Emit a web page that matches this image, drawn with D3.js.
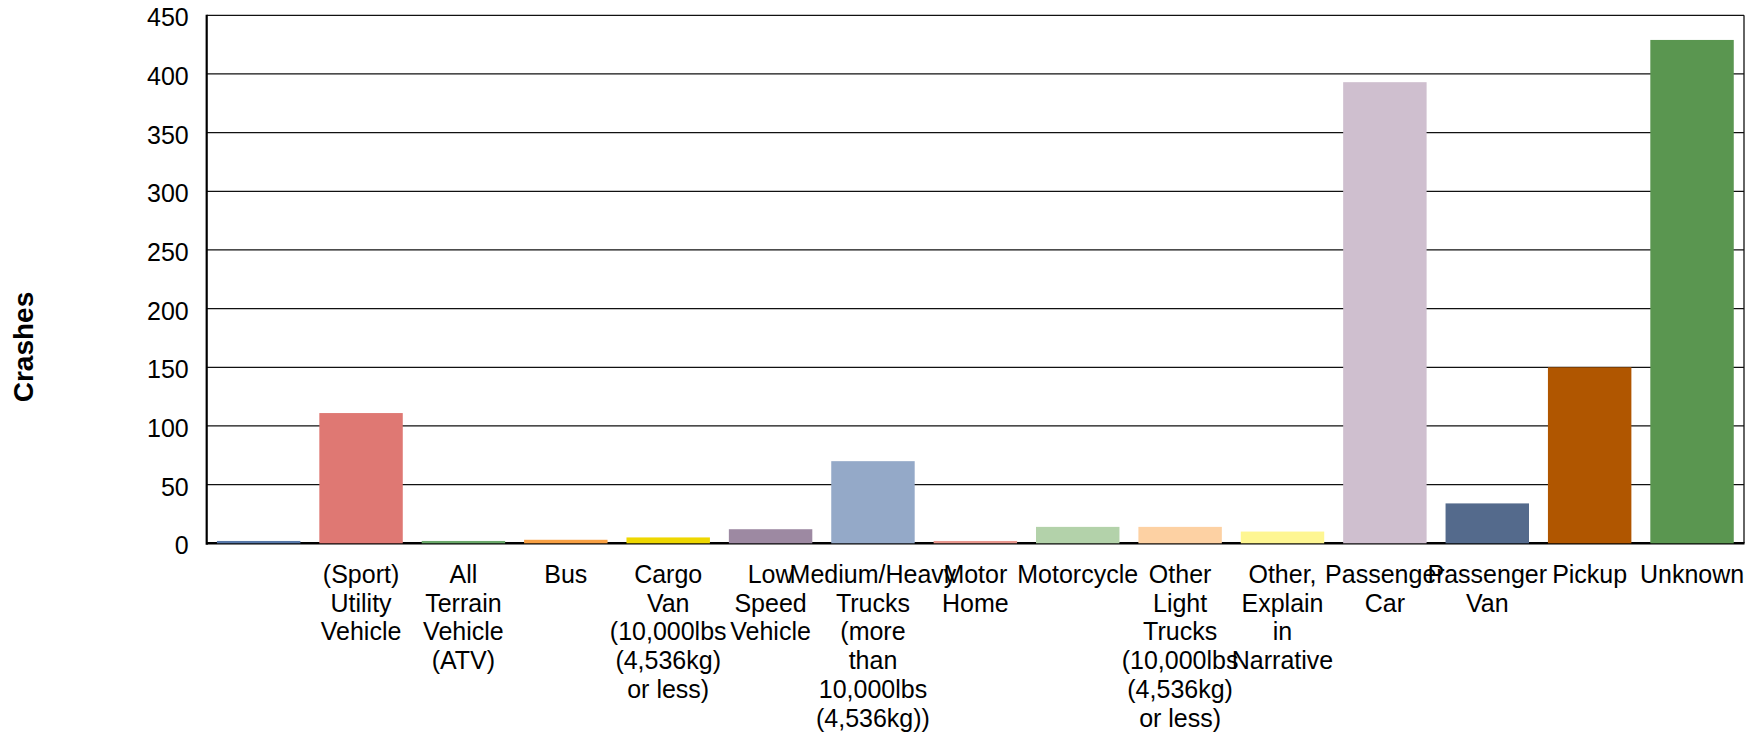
<!DOCTYPE html>
<html>
<head>
<meta charset="utf-8">
<script src="https://cdn.jsdelivr.net/npm/d3@7"></script>
<style>
  html, body { margin: 0; padding: 0; background: #fff; }
  svg { display: block; font-family: "Liberation Sans", Arial, sans-serif; }
</style>
</head>
<body>
<svg id="chart" width="1760" height="737"></svg>
<script>
const categories = [
  "",
  "(Sport) Utility Vehicle",
  "All Terrain Vehicle (ATV)",
  "Bus",
  "Cargo Van (10,000lbs (4,536kg) or less)",
  "Low Speed Vehicle",
  "Medium/Heavy Trucks (more than 10,000lbs (4,536kg))",
  "Motor Home",
  "Motorcycle",
  "Other Light Trucks (10,000lbs (4,536kg) or less)",
  "Other, Explain in Narrative",
  "Passenger Car",
  "Passenger Van",
  "Pickup",
  "Unknown"
];
const labelLines = [
  [],
  ["(Sport)", "Utility", "Vehicle"],
  ["All", "Terrain", "Vehicle", "(ATV)"],
  ["Bus"],
  ["Cargo", "Van", "(10,000lbs", "(4,536kg)", "or less)"],
  ["Low", "Speed", "Vehicle"],
  ["Medium/Heavy", "Trucks", "(more", "than", "10,000lbs", "(4,536kg))"],
  ["Motor", "Home"],
  ["Motorcycle"],
  ["Other", "Light", "Trucks", "(10,000lbs", "(4,536kg)", "or less)"],
  ["Other,", "Explain", "in", "Narrative"],
  ["Passenger", "Car"],
  ["Passenger", "Van"],
  ["Pickup"],
  ["Unknown"]
];
const crashes = [2, 111, 2, 3, 5, 12, 70, 2, 14, 14, 10, 393, 34, 150, 429];
const colors = ["#5677a8", "#df7873", "#6aa86a", "#f8a043", "#eed700", "#9d89a2",
  "#94a9c8", "#e8968d", "#b3d2aa", "#fdd1a3", "#fef692", "#cfbfcf",
  "#546a8c", "#b05600", "#5a9650"];
const yTicks = [0, 50, 100, 150, 200, 250, 300, 350, 400, 450];
const yTitle = "Crashes";

const svg = d3.select("#chart");
const pL = 206.7, pR = 1744, pT = 15.3, pB = 543.3;

const x = d3.scaleBand().domain(d3.range(categories.length))
  .range([pL, pR]).paddingInner(0.185).paddingOuter(0.1);
const y = d3.scaleLinear().domain([0, 450]).range([pB, pT]);

// gridlines
svg.append("g").selectAll("line").data(yTicks.filter(t => t > 0)).join("line")
  .attr("x1", pL).attr("x2", pR)
  .attr("y1", d => y(d)).attr("y2", d => y(d))
  .attr("stroke", "#111").attr("stroke-width", 1.3);

// right border
svg.append("line").attr("x1", pR).attr("x2", pR).attr("y1", pT).attr("y2", pB)
  .attr("stroke", "#111").attr("stroke-width", 1.3);

// y axis
const yAxis = d3.axisLeft(y).tickValues(yTicks).tickSize(0).tickPadding(18);
const gy = svg.append("g").attr("transform", `translate(${pL},0)`).call(yAxis);
gy.select(".domain").remove();
gy.selectAll("text").attr("font-size", 25).attr("fill", "#000")
  .attr("font-family", "'Liberation Sans', Arial, sans-serif")
  .attr("dy", "0.42em");

// axis lines
svg.append("line").attr("x1", pL).attr("x2", pL).attr("y1", pT - 0.5).attr("y2", pB + 1.5)
  .attr("stroke", "#000").attr("stroke-width", 2.2);
svg.append("line").attr("x1", pL).attr("x2", pR + 0.5).attr("y1", pB).attr("y2", pB)
  .attr("stroke", "#000").attr("stroke-width", 2.4);

// bars
svg.append("g").selectAll("rect").data(crashes).join("rect")
  .attr("x", (d, i) => x(i))
  .attr("width", x.bandwidth())
  .attr("y", d => y(d))
  .attr("height", d => pB - y(d))
  .attr("fill", (d, i) => colors[i]);

// x labels
const xl = svg.append("g");
labelLines.forEach((lines, i) => {
  const cx = x(i) + x.bandwidth() / 2;
  const t = xl.append("text").attr("text-anchor", "middle")
    .attr("font-size", 25).attr("fill", "#000");
  lines.forEach((ln, k) => {
    t.append("tspan").attr("x", cx).attr("y", pB + 39.4 + k * 28.8).text(ln);
  });
});

// y title
svg.append("text")
  .attr("transform", "translate(33,347) rotate(-90)")
  .attr("text-anchor", "middle")
  .attr("font-size", 28).attr("font-weight", "bold").attr("fill", "#000")
  .text(yTitle);
</script>
</body>
</html>
